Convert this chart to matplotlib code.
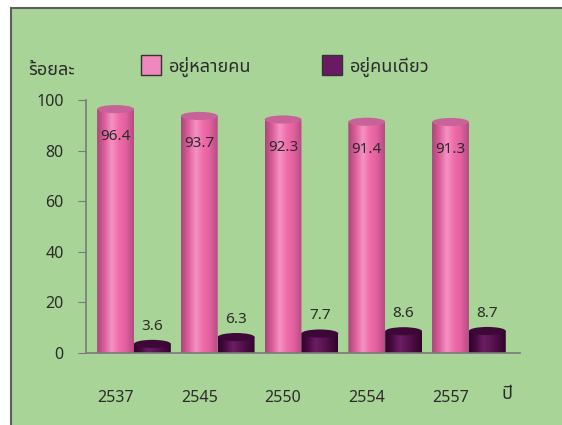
import numpy as np
import matplotlib
matplotlib.use('Agg')
import matplotlib.pyplot as plt
from matplotlib import font_manager, ft2font
from matplotlib.patches import Ellipse, Rectangle, PathPatch, Patch
from matplotlib.path import Path
from matplotlib.colors import LinearSegmentedColormap

# Data
years = ['2537', '2545', '2550', '2554', '2557']
many_people = [96.4, 93.7, 92.3, 91.4, 91.3]
living_alone = [3.6, 6.3, 7.7, 8.6, 8.7]
series_names = ['อยู่หลายคน', 'อยู่คนเดียว']
y_title = 'ร้อยละ'
x_title = 'ปี'


# Look for a font that has Thai glyphs
def find_thai_family():
    found = []
    for f in font_manager.fontManager.ttflist:
        try:
            if 0x0E2D in ft2font.FT2Font(f.fname).get_charmap():
                found.append(f.name)
        except Exception:
            continue
    for pref in ['Tahoma', 'Noto Sans Thai', 'Noto Sans Thai UI', 'Loma', 'Garuda', 'Umpush']:
        if pref in found:
            return pref
    return found[0] if found else None


thai = find_thai_family()
families = ([thai] if thai else []) + ['DejaVu Sans']
plt.rcParams['font.family'] = families

text_color = '#2b2b2b'
bg_green = '#a9d497'

pink_cmap = LinearSegmentedColormap.from_list(
    'pink', ['#a9477c', '#dd5f9a', '#f592c4', '#f06ca9', '#e0609e', '#b54a84'])
purple_cmap = LinearSegmentedColormap.from_list(
    'purple', ['#2c0427', '#4b0c44', '#6d1e65', '#5c1454', '#470b40', '#300529'])


def cylinder(ax, xc, h, w, eh, cmap, top_color):
    x0, x1 = xc - w / 2, xc + w / 2
    t = np.linspace(np.pi, 2 * np.pi, 40)
    bx = xc + w / 2 * np.cos(t)
    by = eh / 2 * np.sin(t)
    verts = [(x0, h)] + list(zip(bx, by)) + [(x1, h), (x0, h)]
    codes = [Path.MOVETO] + [Path.LINETO] * (len(verts) - 2) + [Path.CLOSEPOLY]
    body = PathPatch(Path(verts, codes), facecolor='none', edgecolor='none')
    ax.add_patch(body)
    grad = np.linspace(0, 1, 64).reshape(1, -1)
    im = ax.imshow(grad, cmap=cmap, extent=(x0, x1, -eh / 2, h),
                   aspect='auto', zorder=2, interpolation='bilinear')
    im.set_clip_path(body)
    im.set_clip_box(None)
    top = Ellipse((xc, h), w, eh, facecolor=top_color, edgecolor='none', zorder=3)
    ax.add_patch(top)


fig = plt.figure(figsize=(5.62, 4.25), dpi=100)
fig.patch.set_facecolor('white')
fig.patches.append(Rectangle((11 / 562, -0.05), 1.2, 1 - 8 / 425 + 0.05,
                             transform=fig.transFigure, facecolor=bg_green,
                             edgecolor='#5e5e5e', linewidth=1.5, zorder=-1))

ax = fig.add_axes([86 / 562, 1 - 353 / 425, 434 / 562, 253 / 425])
ax.set_facecolor('none')

x = np.arange(len(years))
w = 0.44
eh = 3.2
for i in range(len(years)):
    cylinder(ax, x[i] - w / 2, many_people[i], w, eh, pink_cmap, '#c8639a')
    cylinder(ax, x[i] + w / 2, living_alone[i], w, eh, purple_cmap, '#3d0837')
    ax.text(x[i] - w / 2, many_people[i] - 11, f'{many_people[i]}', ha='center', va='center',
            fontsize=11, color=text_color, zorder=5)
    ax.text(x[i] + w / 2, living_alone[i] + 7, f'{living_alone[i]}', ha='center', va='center',
            fontsize=11, color=text_color, zorder=5)

ax.set_xlim(-0.573, 4.61)
ax.set_ylim(0, 100)
ax.set_yticks([0, 20, 40, 60, 80, 100])
ax.set_xticks(x - w / 2)
ax.set_xticklabels(years)
ax.tick_params(axis='y', length=6, color='#7a7a7a', labelsize=11.5, labelcolor=text_color, pad=10)
ax.tick_params(axis='x', length=0, labelsize=11.5, labelcolor=text_color, pad=27)
for s in ['top', 'right']:
    ax.spines[s].set_visible(False)
for s in ['left', 'bottom']:
    ax.spines[s].set_color('#7a7a7a')
    ax.spines[s].set_linewidth(1.2)

# Titles and legend
fig.text(28 / 562, 1 - 70 / 425, y_title, fontsize=13, color=text_color, ha='left', va='center')
fig.text(507 / 562, 1 - 394 / 425, x_title, fontsize=13, color=text_color, ha='center', va='center')

handles = [Patch(facecolor='#f088be', edgecolor='#333333', linewidth=1.0),
           Patch(facecolor='#6a1a62', edgecolor='#333333', linewidth=1.0)]
fig.legend(handles, series_names, loc='center left', bbox_to_anchor=(141 / 562, 1 - 66 / 425),
           ncol=2, frameon=False, fontsize=13, handlelength=1.1, handleheight=1.3,
           handletextpad=0.45, columnspacing=3.9, borderpad=0, borderaxespad=0,
           labelcolor=text_color)

plt.savefig('out.png', dpi=100)
plt.close()
